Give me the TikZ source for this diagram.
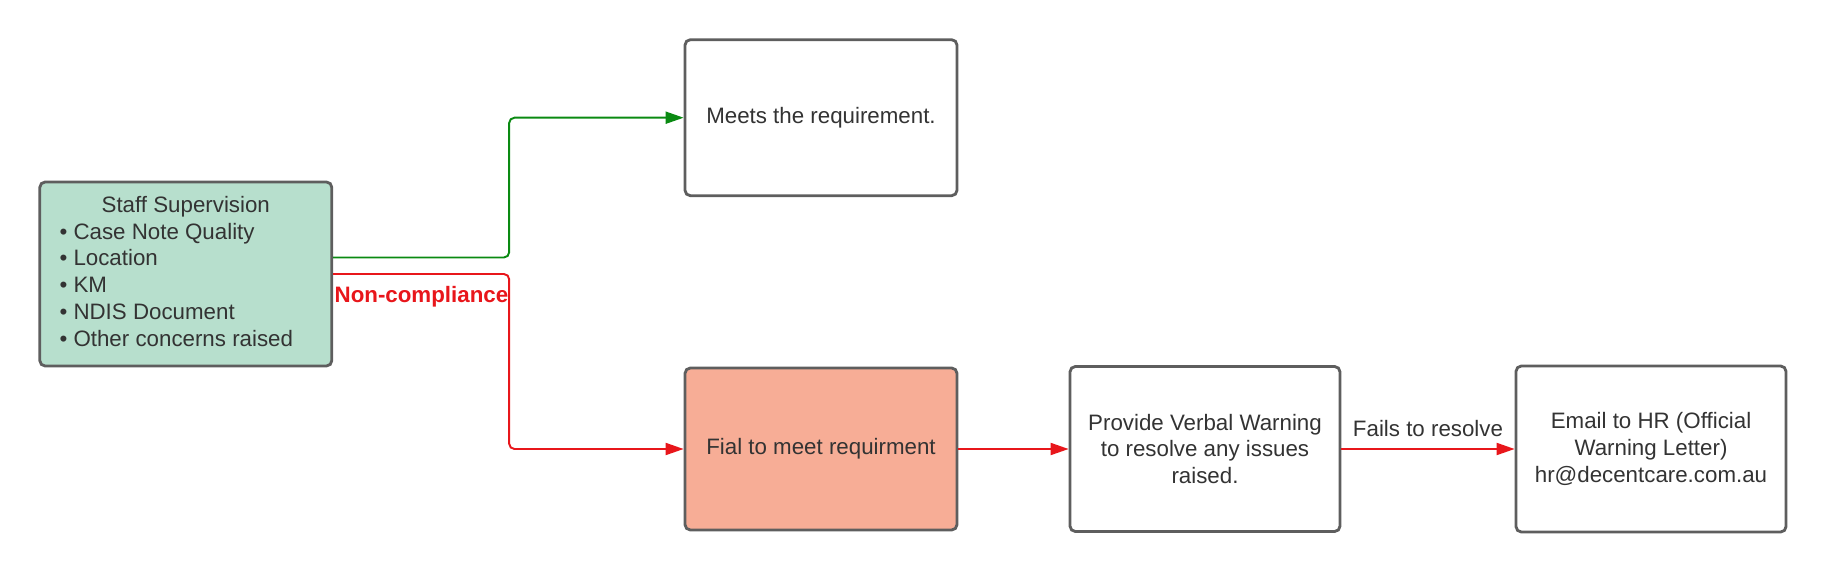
\documentclass[tikz,border=0pt]{standalone}
\usepackage{fontspec}
\setmainfont{Liberation Sans}
\usetikzlibrary{arrows.meta}
\definecolor{boxgray}{HTML}{5E5E5E}
\definecolor{staffgreen}{HTML}{B7DFCD}
\definecolor{failpink}{HTML}{F7AD96}
\definecolor{okgreen}{HTML}{0A8A12}
\definecolor{badred}{HTML}{E8161B}
\definecolor{inktext}{HTML}{333333}

\begin{document}
\begin{tikzpicture}[x=0.02cm, y=0.02cm,
                  stepbox/.style={draw=boxgray, line width=1.6pt, rounded corners=3pt, fill=white, text=inktext,
                                  align=center, font=\fontsize{12.7}{15.25}\selectfont},
                  okline/.style={draw=okgreen, line width=1.1pt, rounded corners=3pt, -{Triangle[length=0.36cm,width=0.24cm]}},
                  failline/.style={draw=badred, line width=1.1pt, rounded corners=3pt, -{Triangle[length=0.36cm,width=0.24cm]}}]
                  \useasboundingbox (0,0) rectangle (1827,-575);
                  \node [stepbox, fill=staffgreen, minimum width=5.84cm, minimum height=3.68cm] (staff) at (185.8,-274)
                        {\begin{tabular}{@{}l@{\hspace{0.38cm}}}
                         \multicolumn{1}{@{\hspace{0.19cm}}c@{\hspace{0.19cm}}}{Staff Supervision}\\
                         \textbullet\ Case Note Quality\\
                         \textbullet\ Location\\
                         \textbullet\ KM\\
                         \textbullet\ NDIS Document\\
                         \textbullet\ Other concerns raised
                         \end{tabular}};
                  \node [stepbox, minimum width=5.44cm, minimum height=3.12cm] (meets) at (821,-117.7) {Meets the requirement.};
                  \node [stepbox, fill=failpink, minimum width=5.44cm, minimum height=3.24cm] (fial) at (821,-449) {Fial to meet requirment};
                  \node [stepbox, minimum width=5.4cm, minimum height=3.3cm] (verbal) at (1205,-449)
                        {Provide Verbal Warning\\to resolve any issues\\raised.};
                  \node [stepbox, minimum width=5.4cm, minimum height=3.32cm] (hrmail) at (1651,-449)
                        {Email to HR (Official\\Warning Letter)\\hr@decentcare.com.au};
                  \draw [okline] ([yshift=0.33cm]staff.east) -- ++(176,0) |- (meets.west);
                  \draw [failline] (staff.east) -- ++(176,0)
                        node [anchor=north east, inner sep=0pt, yshift=-0.225cm, text=badred,
                              font=\fontsize{12.7}{15.25}\selectfont\bfseries] {Non-compliance}
                        |- (fial.west);
                  \draw [failline] (fial.east) -- (verbal.west);
                  \draw [failline] (verbal.east) -- (hrmail.west)
                        node [midway, above, yshift=0.1cm, text=inktext, font=\fontsize{12.7}{15.25}\selectfont] {Fails to resolve};
\end{tikzpicture}
\end{document}
